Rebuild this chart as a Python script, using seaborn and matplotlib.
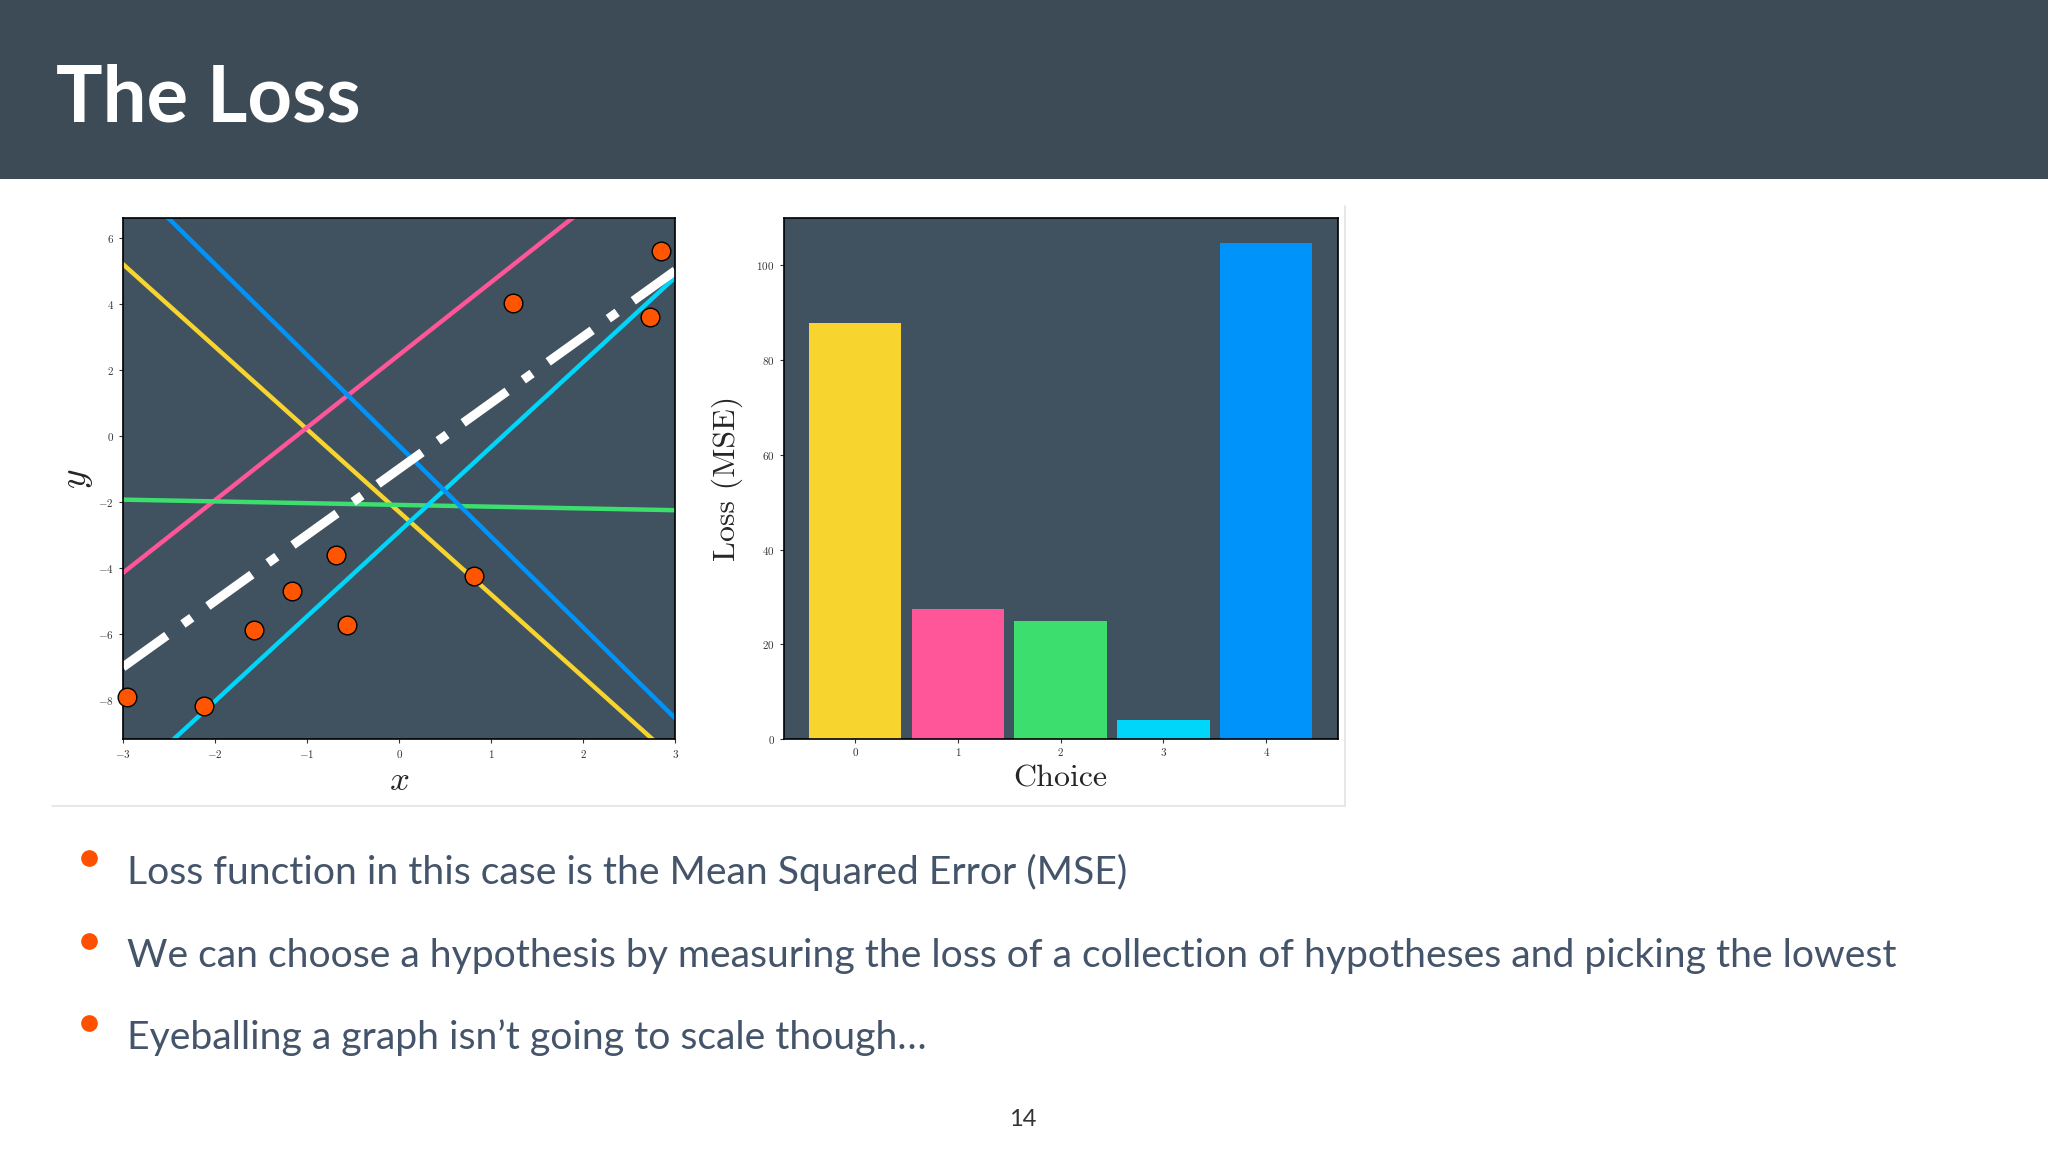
import numpy as np
import matplotlib
matplotlib.use('Agg')
import matplotlib.pyplot as plt
import seaborn as sns
from matplotlib.lines import Line2D
from matplotlib.patches import Rectangle

# data
pts_x = [-2.95, -2.12, -1.58, -1.16, -0.68, -0.57, 0.81, 1.24, 2.72, 2.84]
pts_y = [-7.90, -8.19, -5.89, -4.68, -3.61, -5.72, -4.25, 4.01, 3.61, 5.59]

line_x = [-3, 3]
hyp_start = [5.2, -4.15, -1.93, -10.6, 7.95]    # y at x=-3
hyp_end = [-9.8, 9.05, -2.25, 4.8, -8.55]       # y at x=3
true_start, true_end = -7.0, 5.0

choices = [0, 1, 2, 3, 4]
losses = [87.8, 27.4, 25.0, 3.96, 104.8]
colors = ['#F8D42F', '#FF5599', '#3CDF6E', '#00D5FA', '#0094FB']

bullets = [
    'Loss function in this case is the Mean Squared Error (MSE)',
    'We can choose a hypothesis by measuring the loss of a collection of hypotheses and picking the lowest',
    'Eyeballing a graph isn\u2019t going to scale though\u2026',
]

sns.set_style('ticks')
plt.rcParams['font.family'] = 'serif'
plt.rcParams['font.serif'] = ['cmr10', 'DejaVu Serif']
plt.rcParams['mathtext.fontset'] = 'cm'
plt.rcParams['axes.formatter.use_mathtext'] = True
plt.rcParams['axes.unicode_minus'] = True

bg = '#40525F'
W, H = 2048, 1152
fig = plt.figure(figsize=(20.48, 11.52), dpi=100)
fig.patch.set_facecolor('white')

# header bar
fig.add_artist(Rectangle((0, 1 - 179 / H), 1, 179 / H, transform=fig.transFigure,
                         facecolor='#3D4B57', edgecolor='none', zorder=0))
fig.text(56 / W, 1 - 122 / H, 'The Loss', family='Lato', weight='bold',
         fontsize=56, color='white', va='baseline')

# faint frame around the figure area
fig.add_artist(Line2D([52 / W, 1345 / W], [1 - 806 / H, 1 - 806 / H], transform=fig.transFigure,
                      color='#E3E3E3', lw=1.2))
fig.add_artist(Line2D([1345 / W, 1345 / W], [1 - 806 / H, 1 - 206 / H], transform=fig.transFigure,
                      color='#E3E3E3', lw=1.2))

ax1 = fig.add_axes([122.8 / W, 1 - 739.2 / H, 552.5 / W, 521.1 / H])
ax2 = fig.add_axes([783.7 / W, 1 - 739.2 / H, 553.8 / W, 521.1 / H])

for ax in (ax1, ax2):
    ax.set_facecolor(bg)
    for s in ax.spines.values():
        s.set_color('black')
        s.set_linewidth(1.2)
    ax.tick_params(labelsize=8, length=3, width=0.8, color='#333333', labelcolor='#333333')

# left: hypotheses and data
for y0, y1, c in zip(hyp_start, hyp_end, colors):
    sns.lineplot(x=line_x, y=[y0, y1], color=c, lw=3.2, ax=ax1)
sns.lineplot(x=line_x, y=[true_start, true_end], color='white', lw=6.5,
             linestyle=(0, (6, 2.2, 1.2, 2.2)), ax=ax1)
sns.scatterplot(x=pts_x, y=pts_y, color='#FF5500', edgecolor='black', s=180,
                linewidth=1, zorder=5, clip_on=False, ax=ax1)
ax1.set_xlim(-3, 3)
ax1.set_ylim(-9.18, 6.59)
ax1.set_xticks([-3, -2, -1, 0, 1, 2, 3])
ax1.set_yticks([-8, -6, -4, -2, 0, 2, 4, 6])
ax1.set_xlabel('$x$', fontsize=25, labelpad=4)
ax1.set_ylabel('$y$', fontsize=27, labelpad=2)

# right: loss per choice
sns.barplot(x=choices, y=losses, hue=choices, palette=colors, width=0.9,
            saturation=1, legend=False, edgecolor='none', linewidth=0, ax=ax2)
ax2.set_xlim(-0.695, 4.695)
ax2.set_ylim(0, 110)
ax2.set_yticks([0, 20, 40, 60, 80, 100])
ax2.set_xlabel('Choice', fontsize=23, labelpad=5)
ax2.set_ylabel('Loss (MSE)', fontsize=23, labelpad=10)

# bullets
for i, txt in enumerate(bullets):
    yb = [884, 966.5, 1049][i]
    fig.add_artist(Line2D([89 / W], [1 - (yb - 26) / H], marker='o', markersize=11,
                          color='#FF5000', transform=fig.transFigure))
    fig.text(127 / W, 1 - yb / H, txt, family='Lato', fontsize=28.2,
             color='#44546A', va='baseline')

fig.text(1023 / W, 1 - 1119 / H, '14', family='Lato', fontsize=17,
         color='#333333', ha='center', va='center')

fig.savefig('out.png', dpi=100)
